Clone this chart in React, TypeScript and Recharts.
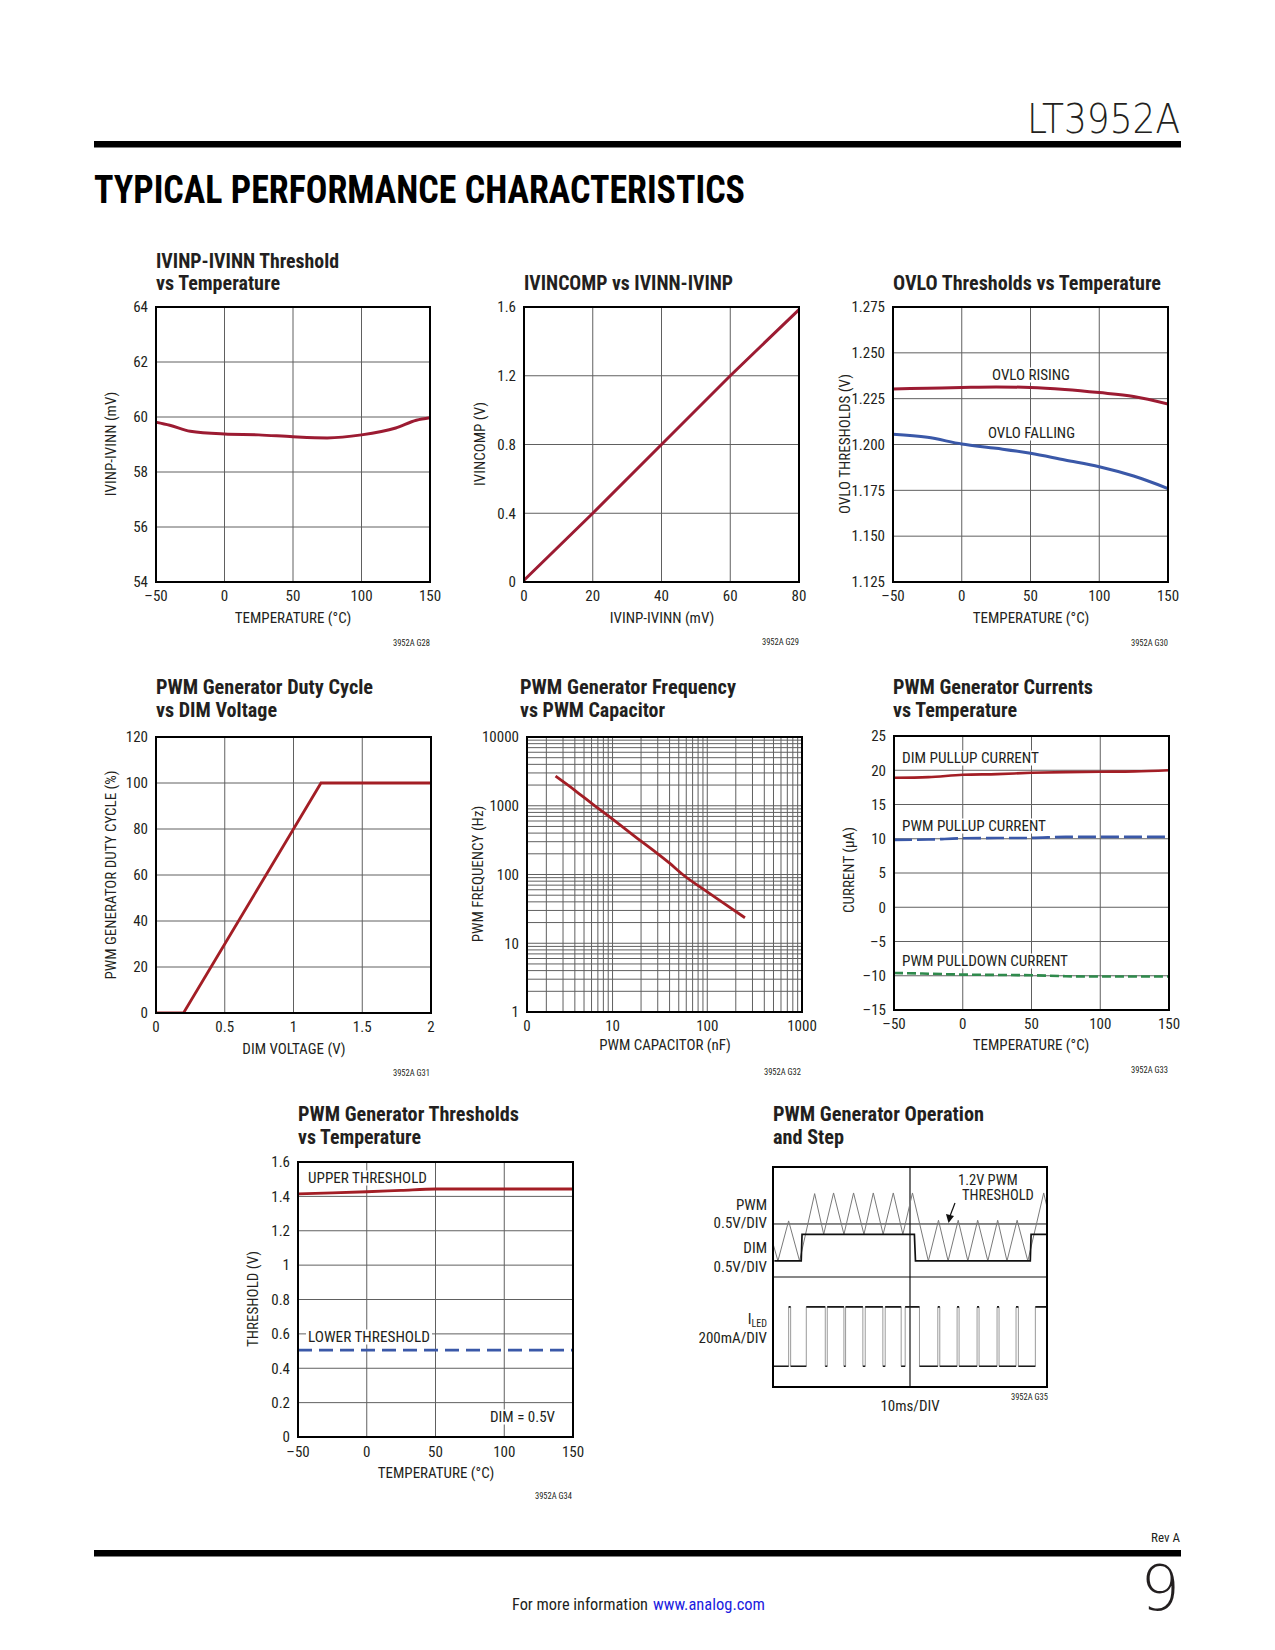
import React from 'react'
import { LineChart, Line, XAxis, YAxis, CartesianGrid, ReferenceLine } from 'recharts'

const FONT = '"Liberation Sans Narrow", "Arial Narrow", "Roboto Condensed", "Liberation Sans", Arial, sans-serif'
const THIN = '"DejaVu Sans", "Liberation Sans", sans-serif'
const INK = '#231f20'
const RED = '#9c1b32'
const BRICK = '#a31e25'
const BLUE = '#3a58a8'
const GREEN = '#2f8a4c'
const GRID = '#606060'

// G28: IVINP-IVINN threshold vs temperature
const g28Temp = [-50, -40, -25, 0, 25, 50, 75, 100, 125, 140, 150]
const g28Mv = [59.81, 59.7, 59.48, 59.38, 59.35, 59.28, 59.24, 59.35, 59.6, 59.88, 59.97]

// G29: IVINCOMP vs IVINP-IVINN
const g29Mv = [0, 20, 40, 60, 80]
const g29V = [0.01, 0.4, 0.8, 1.2, 1.585]

// G30: OVLO thresholds
const g30Temp = [-50, -25, 0, 25, 50, 75, 100, 125, 150]
const g30Rising = [1.2303, 1.2307, 1.2311, 1.2314, 1.2311, 1.23, 1.2283, 1.2262, 1.2221]
const g30Falling = [1.2056, 1.2039, 1.2003, 1.1979, 1.1952, 1.1915, 1.1879, 1.1828, 1.176]

// G31: duty cycle vs DIM
const g31Dim = [0, 0.2, 0.4, 0.6, 0.8, 1.0, 1.2, 2.0]
const g31Duty = [0, 0, 20, 40, 60, 80, 100, 100]

// G32: frequency vs capacitor (log-log, x axis starts a bit above 1)
const g32Cap = [2.5, 4, 6.2, 10, 20, 30, 40, 55, 100, 150, 250]
const g32Freq = [2700, 1680, 1050, 640, 305, 200, 146, 100, 56, 38, 23.5]

// G33: generator currents
const g33Temp = [-50, -25, 0, 25, 50, 75, 100, 125, 150]
const g33DimPullup = [18.9, 19.0, 19.34, 19.44, 19.63, 19.73, 19.78, 19.83, 20.0]
const g33PwmPullup = [9.83, 9.88, 10.07, 10.1, 10.12, 10.27, 10.27, 10.27, 10.27]
const g33PwmPulldown = [-9.59, -9.7, -9.83, -9.88, -9.93, -10.07, -10.12, -10.12, -10.12]

// G34: generator thresholds
const g34Temp = [-50, -25, 0, 25, 50, 75, 100, 125, 150]
const g34Upper = [1.414, 1.42, 1.427, 1.435, 1.443, 1.443, 1.443, 1.443, 1.443]
const g34Lower = [0.505, 0.505, 0.505, 0.505, 0.505, 0.505, 0.505, 0.505, 0.505]

// G35: scope capture, time and level in divisions
const scopePwmT = [0, 0.18, 0.57, 0.97, 1.52, 1.85, 2.21, 2.59, 2.94, 3.32, 3.66, 4.02, 4.39, 4.74, 5.09, 5.67, 6.04, 6.39, 6.76, 7.11, 7.47, 7.84, 8.2, 8.54, 8.91, 9.3, 9.88, 10]
const scopePwm = [6.52, 5.73, 7.55, 5.73, 8.79, 6.94, 8.82, 6.94, 8.82, 6.94, 8.82, 6.94, 8.82, 6.94, 8.82, 5.73, 7.58, 5.73, 7.58, 5.73, 7.58, 5.73, 7.58, 5.73, 7.58, 5.73, 8.82, 8.18]
const scopeDimT = [0.05, 1.03, 1.06, 5.16, 5.2, 9.39, 9.42, 10]
const scopeDim = [5.73, 5.73, 6.94, 6.94, 5.73, 5.73, 6.94, 6.94]
const scopeLedT = [0, 0.571, 0.571, 0.644, 0.644, 1.215, 1.215, 1.908, 1.908, 1.98, 1.98, 2.588, 2.588, 2.649, 2.649, 3.28, 3.28, 3.366, 3.366, 4.01, 4.01, 4.095, 4.095, 4.678, 4.678, 4.824, 4.824, 5.346, 5.346, 6.015, 6.015, 6.087, 6.087, 6.719, 6.719, 6.792, 6.792, 7.448, 7.448, 7.521, 7.521, 8.177, 8.177, 8.25, 8.25, 8.87, 8.87, 8.955, 8.955, 9.575, 9.575, 10]
const scopeLed = [0.94, 0.94, 3.64, 3.64, 0.94, 0.94, 3.64, 3.64, 0.94, 0.94, 3.64, 3.64, 0.94, 0.94, 3.64, 3.64, 0.94, 0.94, 3.64, 3.64, 0.94, 0.94, 3.64, 3.64, 0.94, 0.94, 3.64, 3.64, 0.94, 0.94, 3.64, 3.64, 0.94, 0.94, 3.64, 3.64, 0.94, 0.94, 3.64, 3.64, 0.94, 0.94, 3.64, 3.64, 0.94, 0.94, 3.64, 3.64, 0.94, 0.94, 3.64, 3.64]
const scopeDivs = [0, 1, 2, 3, 4, 5, 6, 7, 8, 9, 10]

// axis ticks
const tempTicks = [-50, 0, 50, 100, 150]
const g28Ticks = [54, 56, 58, 60, 62, 64]
const g29XTicks = [0, 20, 40, 60, 80]
const g29YTicks = [0, 0.4, 0.8, 1.2, 1.6]
const g30Ticks = [1.125, 1.15, 1.175, 1.2, 1.225, 1.25, 1.275]
const g31XTicks = [0, 0.5, 1, 1.5, 2]
const g31YTicks = [0, 20, 40, 60, 80, 100, 120]
const decadeSteps = [1, 2, 3, 4, 5, 6, 7, 8, 9]
const logTicks = (decades: number[]) => [...decades.slice(0, -1).flatMap((d) => decadeSteps.map((s) => s * d)), decades[decades.length - 1]]
const g32XStart = 1.25
const g32XTicks = [g32XStart, ...logTicks([1, 10, 100, 1000]).slice(1)]
const g32YTicks = logTicks([1, 10, 100, 1000, 10000])
const g33Ticks = [-15, -10, -5, 0, 5, 10, 15, 20, 25]
const g34Ticks = [0, 0.2, 0.4, 0.6, 0.8, 1, 1.2, 1.4, 1.6]

const pts = (xs: number[], ys: number[]) => xs.map((x, i) => ({ x, y: ys[i] }))
// flat runs only, broken at the edges, for the darker trace of the scope
const flats = (xs: number[], ys: number[]) =>
  xs.slice(0, -1).flatMap((x, i) =>
    ys[i] === ys[i + 1] ? [{ x, y: ys[i] }, { x: xs[i + 1], y: ys[i] }, { x: xs[i + 1], y: null }] : []
  )
const signed = (v: number) => (v < 0 ? `–${-v}` : String(v))
const isDecade = (v: number) => Math.abs(Math.log10(v) - Math.round(Math.log10(v))) < 1e-9

type Rect = { x: number; y: number; w: number; h: number }
const R1: Rect = { x: 156, y: 307, w: 274, h: 275 }
const R2: Rect = { x: 524, y: 307, w: 275, h: 275 }
const R3: Rect = { x: 893, y: 307, w: 275, h: 275 }
const R4: Rect = { x: 156, y: 737, w: 275, h: 276 }
const R5: Rect = { x: 527, y: 737, w: 275, h: 275 }
const R6: Rect = { x: 894, y: 736, w: 275, h: 274 }
const R7: Rect = { x: 298, y: 1162, w: 275, h: 275 }
const R8: Rect = { x: 773, y: 1167, w: 274, h: 220 }

const PAD = { l: 64, t: 12, r: 16, b: 36 }
const tickStyle = { fontSize: 15, fill: INK }

type PlotProps = {
  r: Rect
  xDomain: number[]
  xTicks: number[]
  yDomain: number[]
  yTicks: number[]
  xFmt?: (v: number) => string
  yFmt?: (v: number) => string
  log?: boolean
  xGap?: number
  children: React.ReactNode
}

function Plot({ r, xDomain, xTicks, yDomain, yTicks, xFmt = signed, yFmt = signed, log = false, xGap = 8, children }: PlotProps) {
  return (
    <div style={{ position: 'absolute', left: r.x - PAD.l, top: r.y - PAD.t, fontFamily: FONT }}>
      <LineChart
        width={r.w + PAD.l + PAD.r}
        height={r.h + PAD.t + PAD.b}
        margin={{ top: PAD.t, right: PAD.r, bottom: 0, left: 0 }}
      >
        <CartesianGrid stroke={GRID} strokeWidth={1} />
        <XAxis
          type="number"
          dataKey="x"
          scale={log ? 'log' : 'linear'}
          domain={xDomain}
          ticks={xTicks}
          interval={0}
          height={PAD.b}
          tickSize={0}
          tickMargin={xGap}
          tickLine={false}
          axisLine={false}
          tick={tickStyle}
          tickFormatter={xFmt}
          allowDataOverflow
        />
        <YAxis
          type="number"
          dataKey="y"
          scale={log ? 'log' : 'linear'}
          domain={yDomain}
          ticks={yTicks}
          interval={0}
          width={PAD.l}
          tickSize={0}
          tickMargin={8}
          tickLine={false}
          axisLine={false}
          tick={tickStyle}
          tickFormatter={yFmt}
          allowDataOverflow
        />
        {children}
      </LineChart>
    </div>
  )
}

function Scope() {
  const r = R8
  return (
    <div style={{ position: 'absolute', left: r.x, top: r.y }}>
      <LineChart width={r.w} height={r.h} margin={{ top: 0, right: 0, bottom: 0, left: 0 }}>
        <CartesianGrid stroke="#222" strokeWidth={1} strokeDasharray="1 4.5" />
        <XAxis type="number" dataKey="x" domain={[0, 10]} ticks={scopeDivs} height={0} tick={false} tickLine={false} axisLine={false} allowDataOverflow />
        <YAxis type="number" dataKey="y" domain={[0, 10]} ticks={scopeDivs} width={0} tick={false} tickLine={false} axisLine={false} allowDataOverflow />
        <ReferenceLine x={5} stroke="#111" strokeWidth={1.2} />
        <ReferenceLine y={5} stroke="#111" strokeWidth={1.2} />
        <ReferenceLine y={7.41} stroke="#111" strokeWidth={1} />
        <Line data={pts(scopePwmT, scopePwm)} dataKey="y" type="linear" stroke="#7a7a7a" strokeWidth={1} dot={false} activeDot={false} isAnimationActive={false} />
        <Line data={pts(scopeLedT, scopeLed)} dataKey="y" type="linear" stroke="#9a9a9a" strokeWidth={1} dot={false} activeDot={false} isAnimationActive={false} />
        <Line data={flats(scopeLedT, scopeLed)} dataKey="y" type="linear" stroke="#1a1a1a" strokeWidth={1.6} dot={false} activeDot={false} isAnimationActive={false} />
        <Line data={pts(scopeDimT, scopeDim)} dataKey="y" type="linear" stroke="#111" strokeWidth={1.7} dot={false} activeDot={false} isAnimationActive={false} />
      </LineChart>
    </div>
  )
}

const lineProps = { dataKey: 'y', dot: false, activeDot: false, isAnimationActive: false } as const

function Title({ x, y, lines }: { x: number; y: number[]; lines: [string, number][] }) {
  return (
    <>
      {lines.map(([t, w], i) => (
        <text key={t} x={x} y={y[i]} fontSize={20} fontWeight="bold" fill={INK} textLength={w} lengthAdjust="spacingAndGlyphs">
          {t}
        </text>
      ))}
    </>
  )
}

function YTitle({ x, y, t }: { x: number; y: number; t: string }) {
  return (
    <text transform={`translate(${x},${y}) rotate(-90)`} textAnchor="middle" fontSize={15} fill={INK}>
      {t}
    </text>
  )
}

function XTitle({ x, y, t }: { x: number; y: number; t: string }) {
  return (
    <text x={x} y={y} textAnchor="middle" fontSize={15} fill={INK}>
      {t}
    </text>
  )
}

function Note({ x, y, t }: { x: number; y: number; t: string }) {
  return (
    <text x={x} y={y} textAnchor="end" fontSize={8.5} fill={INK}>
      {t}
    </text>
  )
}

// in-plot label on a white knock-out box, x is the left edge
function Tag({ x, y, w, t }: { x: number; y: number; w: number; t: string }) {
  return (
    <>
      <rect x={x - 2} y={y - 12.5} width={w + 4} height={15} fill="#fff" />
      <text x={x} y={y} fontSize={15} fill={INK} textLength={w} lengthAdjust="spacingAndGlyphs">
        {t}
      </text>
    </>
  )
}

function Frame({ r }: { r: Rect }) {
  return <rect x={r.x} y={r.y} width={r.w} height={r.h} fill="none" stroke="#000" strokeWidth={2} />
}

export default function App() {
  return (
    <div style={{ position: 'absolute', left: 0, top: 0, width: 1275, height: 1650, background: '#fff', overflow: 'hidden' }}>
      <Plot r={R1} xDomain={[-50, 150]} xTicks={tempTicks} yDomain={[54, 64]} yTicks={g28Ticks}>
        <Line data={pts(g28Temp, g28Mv)} {...lineProps} type="monotone" stroke={RED} strokeWidth={3} />
      </Plot>
      <Plot r={R2} xDomain={[0, 80]} xTicks={g29XTicks} yDomain={[0, 1.6]} yTicks={g29YTicks}>
        <Line data={pts(g29Mv, g29V)} {...lineProps} type="linear" stroke={RED} strokeWidth={3} />
      </Plot>
      <Plot r={R3} xDomain={[-50, 150]} xTicks={tempTicks} yDomain={[1.125, 1.275]} yTicks={g30Ticks} yFmt={(v) => v.toFixed(3)}>
        <Line data={pts(g30Temp, g30Rising)} {...lineProps} type="monotone" stroke={RED} strokeWidth={3} />
        <Line data={pts(g30Temp, g30Falling)} {...lineProps} type="monotone" stroke={BLUE} strokeWidth={3} />
      </Plot>
      <Plot r={R4} xDomain={[0, 2]} xTicks={g31XTicks} yDomain={[0, 120]} yTicks={g31YTicks}>
        <Line data={pts(g31Dim, g31Duty)} {...lineProps} type="linear" stroke={BRICK} strokeWidth={2.8} />
      </Plot>
      <Plot
        r={R5}
        log
        xDomain={[g32XStart, 1000]}
        xTicks={g32XTicks}
        yDomain={[1, 10000]}
        yTicks={g32YTicks}
        xFmt={(v) => (v === g32XStart ? '0' : isDecade(v) ? String(v) : '')}
        yFmt={(v) => (isDecade(v) ? String(v) : '')}
      >
        <Line data={pts(g32Cap, g32Freq)} {...lineProps} type="monotone" stroke={BRICK} strokeWidth={2.8} />
      </Plot>
      <Plot r={R6} xDomain={[-50, 150]} xTicks={tempTicks} yDomain={[-15, 25]} yTicks={g33Ticks}>
        <Line data={pts(g33Temp, g33DimPullup)} {...lineProps} type="monotone" stroke={BRICK} strokeWidth={2.6} />
        <Line data={pts(g33Temp, g33PwmPullup)} {...lineProps} type="monotone" stroke={BLUE} strokeWidth={2.6} strokeDasharray="18 5" />
        <Line data={pts(g33Temp, g33PwmPulldown)} {...lineProps} type="monotone" stroke={GREEN} strokeWidth={2.6} strokeDasharray="9 4" />
      </Plot>
      <Plot r={R7} xDomain={[-50, 150]} xTicks={tempTicks} yDomain={[0, 1.6]} yTicks={g34Ticks} xGap={9}>
        <Line data={pts(g34Temp, g34Upper)} {...lineProps} type="monotone" stroke={BRICK} strokeWidth={2.8} />
        <Line data={pts(g34Temp, g34Lower)} {...lineProps} type="linear" stroke={BLUE} strokeWidth={2.8} strokeDasharray="14 7" />
      </Plot>
      <Scope />

      <svg
        width={1275}
        height={1650}
        style={{ position: 'absolute', left: 0, top: 0, pointerEvents: 'none', fontFamily: FONT }}
      >
        {/* page header */}
        <text x={1180} y={133} textAnchor="end" fontSize={40} fontFamily={THIN} fontWeight={200} fill={INK} textLength={153} lengthAdjust="spacingAndGlyphs">
          LT3952A
        </text>
        <rect x={94} y={141} width={1087} height={6.5} fill="#000" />
        <text x={94} y={203} fontSize={38} fontWeight="bold" fill="#000" textLength={651} lengthAdjust="spacingAndGlyphs">
          TYPICAL PERFORMANCE CHARACTERISTICS
        </text>

        {/* G28 */}
        <Frame r={R1} />
        <Title x={156} y={[268, 290]} lines={[['IVINP-IVINN Threshold', 183], ['vs Temperature', 124]]} />
        <XTitle x={293} y={623} t="TEMPERATURE (°C)" />
        <YTitle x={116} y={444} t="IVINP-IVINN (mV)" />
        <Note x={430} y={646} t="3952A G28" />

        {/* G29 */}
        <Frame r={R2} />
        <Title x={524} y={[290]} lines={[['IVINCOMP vs IVINN-IVINP', 209]]} />
        <XTitle x={662} y={623} t="IVINP-IVINN (mV)" />
        <YTitle x={485} y={444} t="IVINCOMP (V)" />
        <Note x={799} y={645} t="3952A G29" />

        {/* G30 */}
        <Frame r={R3} />
        <Title x={893} y={[290]} lines={[['OVLO Thresholds vs Temperature', 268]]} />
        <XTitle x={1031} y={623} t="TEMPERATURE (°C)" />
        <YTitle x={850} y={444} t="OVLO THRESHOLDS (V)" />
        <Tag x={992} y={380} w={78} t="OVLO RISING" />
        <Tag x={988} y={438} w={87} t="OVLO FALLING" />
        <Note x={1168} y={646} t="3952A G30" />

        {/* G31 */}
        <Frame r={R4} />
        <Title x={156} y={[694, 717]} lines={[['PWM Generator Duty Cycle', 217], ['vs DIM Voltage', 121]]} />
        <XTitle x={294} y={1054} t="DIM VOLTAGE (V)" />
        <YTitle x={116} y={875} t="PWM GENERATOR DUTY CYCLE (%)" />
        <Note x={430} y={1076} t="3952A G31" />

        {/* G32 */}
        <Frame r={R5} />
        <Title x={520} y={[694, 717]} lines={[['PWM Generator Frequency', 216], ['vs PWM Capacitor', 145]]} />
        <XTitle x={665} y={1050} t="PWM CAPACITOR (nF)" />
        <YTitle x={483} y={874} t="PWM FREQUENCY (Hz)" />
        <Note x={801} y={1075} t="3952A G32" />

        {/* G33 */}
        <Frame r={R6} />
        <Title x={893} y={[694, 717]} lines={[['PWM Generator Currents', 200], ['vs Temperature', 124]]} />
        <XTitle x={1031} y={1050} t="TEMPERATURE (°C)" />
        <YTitle x={854} y={870} t="CURRENT (µA)" />
        <Tag x={902} y={763} w={137} t="DIM PULLUP CURRENT" />
        <Tag x={902} y={831} w={144} t="PWM PULLUP CURRENT" />
        <Tag x={902} y={966} w={166} t="PWM PULLDOWN CURRENT" />
        <Note x={1168} y={1073} t="3952A G33" />

        {/* G34 */}
        <Frame r={R7} />
        <Title x={298} y={[1121, 1144]} lines={[['PWM Generator Thresholds', 221], ['vs Temperature', 123]]} />
        <XTitle x={436} y={1478} t="TEMPERATURE (°C)" />
        <YTitle x={258} y={1299} t="THRESHOLD (V)" />
        <Tag x={308} y={1183} w={119} t="UPPER THRESHOLD" />
        <Tag x={308} y={1342} w={122} t="LOWER THRESHOLD" />
        <Tag x={490} y={1422} w={65} t="DIM = 0.5V" />
        <Note x={572} y={1499} t="3952A G34" />

        {/* G35 */}
        <Frame r={R8} />
        <Title x={773} y={[1121, 1144]} lines={[['PWM Generator Operation', 211], ['and Step', 71]]} />
        <text x={767} y={1210} textAnchor="end" fontSize={15} fill={INK}>PWM</text>
        <text x={767} y={1228} textAnchor="end" fontSize={15} fill={INK}>0.5V/DIV</text>
        <text x={767} y={1253} textAnchor="end" fontSize={15} fill={INK}>DIM</text>
        <text x={767} y={1272} textAnchor="end" fontSize={15} fill={INK}>0.5V/DIV</text>
        <text x={767} y={1324} textAnchor="end" fontSize={15} fill={INK}>
          I<tspan fontSize={10} dy={2.5}>LED</tspan>
        </text>
        <text x={767} y={1343} textAnchor="end" fontSize={15} fill={INK}>200mA/DIV</text>
        <text x={958} y={1185} fontSize={14.5} fill={INK}>1.2V PWM</text>
        <text x={962} y={1200} fontSize={14.5} fill={INK}>THRESHOLD</text>
        <line x1={955} y1={1203} x2={950} y2={1216} stroke="#111" strokeWidth={1.2} />
        <polygon points="946,1214 954,1216 948.5,1223" fill="#111" />
        <text x={910} y={1411} textAnchor="middle" fontSize={15} fill={INK}>10ms/DIV</text>
        <Note x={1048} y={1400} t="3952A G35" />

        {/* page footer */}
        <text x={1180} y={1542} textAnchor="end" fontSize={13} fill={INK}>Rev A</text>
        <rect x={94} y={1550} width={1087} height={6.5} fill="#000" />
        <text x={1180} y={1610} textAnchor="end" fontSize={62} fontFamily={THIN} fontWeight={200} fill={INK}>9</text>
        <text x={512} y={1610} fontSize={16} fill={INK} textLength={136} lengthAdjust="spacingAndGlyphs">For more information</text>
        <text x={653} y={1610} fontSize={16} fill="#1c1ce0" textLength={112} lengthAdjust="spacingAndGlyphs">www.analog.com</text>
      </svg>
    </div>
  )
}
